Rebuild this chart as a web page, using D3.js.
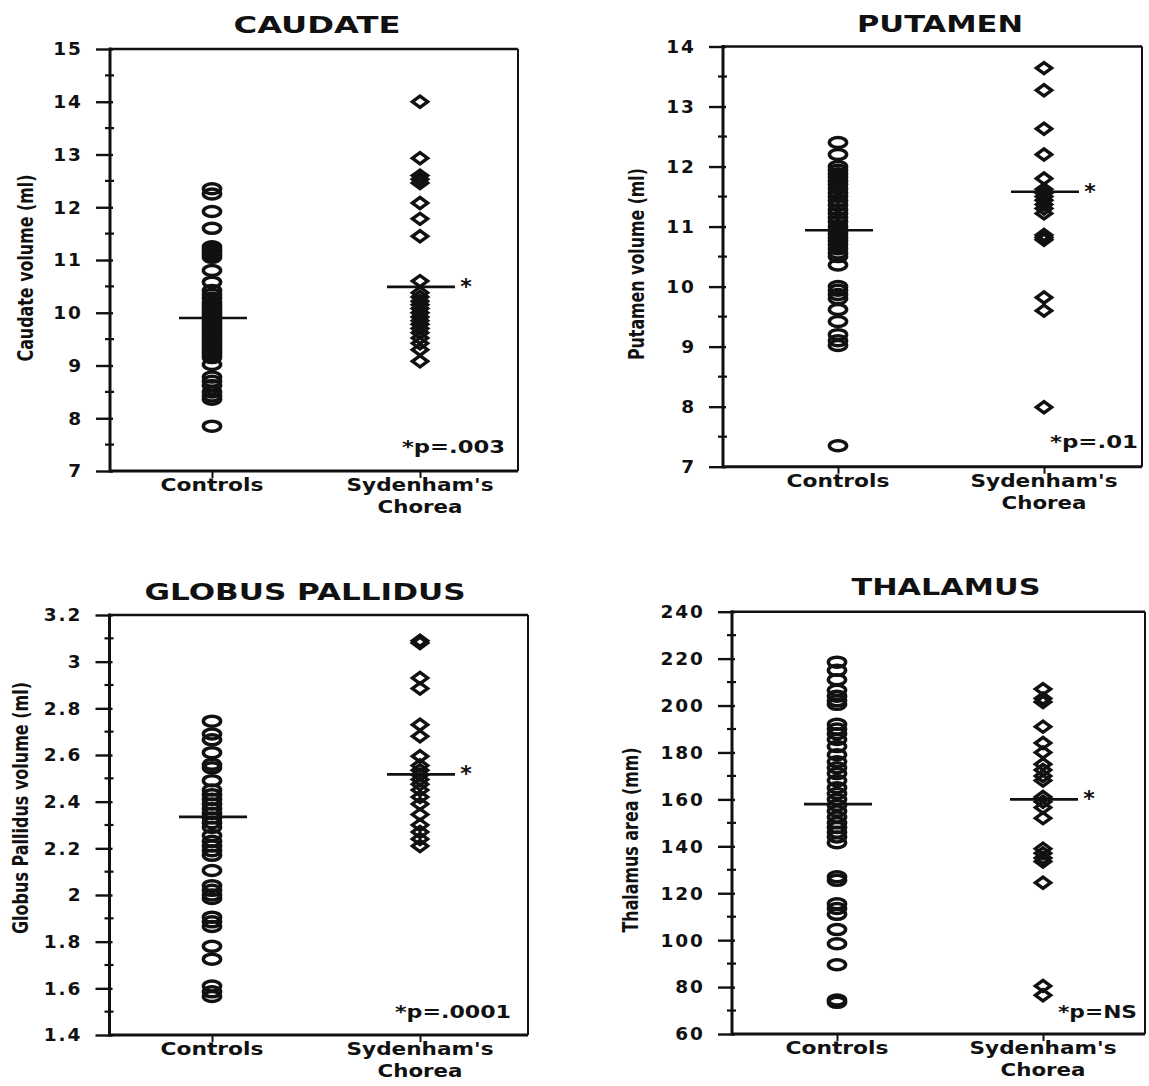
<!DOCTYPE html>
<html>
<head>
<meta charset="utf-8">
<script src="https://cdn.jsdelivr.net/npm/d3@7"></script>
<style>
  html, body { margin: 0; padding: 0; background: #fff; }
  svg { display: block; }
  text { fill: #111; }
</style>
</head>
<body>
<svg id="chart" width="1149" height="1086"></svg>
<script>
// ---- data -------------------------------------------------------------
const categories = ["Controls", "Sydenham's Chorea"];
const categoryLines = [["Controls"], ["Sydenham's", "Chorea"]];

const panelTitles = ["CAUDATE", "PUTAMEN", "GLOBUS PALLIDUS", "THALAMUS"];
const yAxisTitles = ["Caudate volume (ml)", "Putamen volume (ml)",
                     "Globus Pallidus volume (ml)", "Thalamus area (mm)"];
const pValueLabels = ["*p=.003", "*p=.01", "*p=.0001", "*p=NS"];

const yDomains = [[7, 15], [7, 14], [1.4, 3.2], [60, 240]];
const majorTicks = [
  [7, 8, 9, 10, 11, 12, 13, 14, 15],
  [7, 8, 9, 10, 11, 12, 13, 14],
  [1.4, 1.6, 1.8, 2, 2.2, 2.4, 2.6, 2.8, 3, 3.2],
  [60, 80, 100, 120, 140, 160, 180, 200, 220, 240]
];
const minorTicks = [
  [7.5, 8.5, 9.5, 10.5, 11.5, 12.5, 13.5, 14.5],
  [7.5, 8.5, 9.5, 10.5, 11.5, 12.5, 13.5],
  [1.5, 1.7, 1.9, 2.1, 2.3, 2.5, 2.7, 2.9, 3.1],
  [70, 90, 110, 130, 150, 170, 190, 210, 230]
];

const caudateControls = [12.35, 12.25, 11.92, 11.6, 11.25, 11.2, 11.15, 11.1, 11.05,
  10.8, 10.58, 10.42, 10.35, 10.28, 10.2, 10.15, 10.1, 10.05, 10.0, 9.95, 9.9,
  9.85, 9.8, 9.75, 9.7, 9.65, 9.6, 9.55, 9.5, 9.45, 9.4, 9.35, 9.3, 9.25, 9.2,
  9.15, 9.02, 8.78, 8.7, 8.62, 8.5, 8.42, 8.36, 7.85];
const caudateChorea = [14.0, 12.93, 12.6, 12.53, 12.46, 12.08, 11.78, 11.45,
  10.6, 10.38, 10.3, 10.22, 10.15, 10.08, 10.0, 9.92, 9.85, 9.78, 9.7, 9.62,
  9.52, 9.42, 9.3, 9.08];

const putamenControls = [12.4, 12.2, 12.0, 11.94, 11.88, 11.82, 11.76, 11.7,
  11.63, 11.56, 11.5, 11.43, 11.36, 11.28, 11.22, 11.15, 11.08, 11.0, 10.94,
  10.88, 10.82, 10.76, 10.7, 10.63, 10.56, 10.5, 10.36, 10.0, 9.94, 9.87, 9.8,
  9.62, 9.42, 9.2, 9.1, 9.02, 7.35];
const putamenChorea = [13.64, 13.27, 12.63, 12.2, 11.8, 11.62, 11.56, 11.5,
  11.44, 11.37, 11.3, 11.22, 10.86, 10.82, 10.78, 9.82, 9.6, 7.99];

const globusControls = [2.745, 2.69, 2.665, 2.61, 2.56, 2.545, 2.49, 2.45, 2.43,
  2.41, 2.39, 2.37, 2.35, 2.33, 2.31, 2.29, 2.255, 2.23, 2.21, 2.19, 2.17,
  2.105, 2.04, 2.02, 2.0, 1.985, 1.905, 1.885, 1.865, 1.78, 1.725, 1.61, 1.585,
  1.565];
const globusChorea = [3.09, 3.08, 2.93, 2.885, 2.73, 2.68, 2.595, 2.555, 2.535,
  2.515, 2.495, 2.475, 2.45, 2.42, 2.39, 2.345, 2.3, 2.27, 2.24, 2.21];

const thalamusControls = [218.5, 215, 211, 206.5, 204, 202, 200.5, 192, 190, 188,
  185.5, 182.5, 179, 176, 173.5, 171, 168, 165, 162.5, 160, 157.5, 155, 152.5,
  150, 148, 146, 144, 141.5, 127, 125.5, 115.5, 113.5, 111, 104.5, 98.5, 89.5,
  74.5, 73.5];
const thalamusChorea = [207, 203, 201.5, 191, 184, 180, 175, 172.5, 170, 168,
  161, 159, 156.5, 152, 139, 137, 135, 133.5, 124.5, 80.5, 76.5];

const controlsSeries = [caudateControls, putamenControls, globusControls, thalamusControls];
const choreaSeries = [caudateChorea, putamenChorea, globusChorea, thalamusChorea];
const controlMeans = [9.90, 10.94, 2.335, 158.0];
const choreaMeans = [10.49, 11.58, 2.517, 160.0];

// ---- layout -----------------------------------------------------------
const layout = [
  { left: 110, right: 518, top: 49, bottom: 471, cx: [212, 420],
    title: [317, 25, 167], ylab: [25, 268, 187], pval: [402, 453, 103] },
  { left: 723, right: 1142, top: 46.5, bottom: 466.7, cx: [838, 1044],
    title: [940, 24, 166], ylab: [636, 264, 192], pval: [1050, 448, 88] },
  { left: 109.5, right: 528, top: 615, bottom: 1035, cx: [212, 420],
    title: [305, 592, 321], ylab: [20, 808, 252], pval: [395, 1018, 116] },
  { left: 732, right: 1145, top: 611.7, bottom: 1034, cx: [837, 1043],
    title: [946, 587, 189], ylab: [630, 840, 185], pval: [1058, 1018, 79] }
];

const svg = d3.select("#chart");
svg.append("rect").attr("width", 1149).attr("height", 1086).attr("fill", "#fff");

const FONT = "'DejaVu Sans', 'Noto Sans', sans-serif";
const NARROW = "'Liberation Sans Narrow', 'DejaVu Sans Condensed', 'DejaVu Sans', sans-serif";

layout.forEach((L, i) => {
  const g = svg.append("g");
  const y = d3.scaleLinear().domain(yDomains[i]).range([L.bottom, L.top]);
  const x = d3.scalePoint().domain(categories).range(L.cx);

  // title
  g.append("text")
    .attr("x", L.title[0]).attr("y", L.title[1]).attr("dy", "0.36em")
    .attr("text-anchor", "middle")
    .attr("font-family", FONT).attr("font-weight", "bold").attr("font-size", 23)
    .attr("textLength", L.title[2]).attr("lengthAdjust", "spacingAndGlyphs")
    .text(panelTitles[i]);

  // y-axis title
  g.append("text")
    .attr("transform", `translate(${L.ylab[0]},${L.ylab[1]}) rotate(-90)`)
    .attr("text-anchor", "middle").attr("dy", "0.35em")
    .attr("font-family", NARROW).attr("font-weight", "bold").attr("font-size", 22)
    .attr("textLength", L.ylab[2]).attr("lengthAdjust", "spacingAndGlyphs")
    .text(yAxisTitles[i]);

  // frame
  const frame = g.append("g").attr("stroke", "#111").attr("fill", "none");
  frame.append("line").attr("x1", L.left).attr("x2", L.left)
    .attr("y1", L.top - 1.5).attr("y2", L.bottom + 1.5).attr("stroke-width", 3);
  frame.append("line").attr("x1", L.left).attr("x2", L.right)
    .attr("y1", L.top).attr("y2", L.top).attr("stroke-width", 2.5);
  frame.append("line").attr("x1", L.left).attr("x2", L.right)
    .attr("y1", L.bottom).attr("y2", L.bottom).attr("stroke-width", 3);
  frame.append("line").attr("x1", L.right).attr("x2", L.right)
    .attr("y1", L.top).attr("y2", L.bottom).attr("stroke-width", 2);

  // left axis: major ticks with labels
  const yAxis = d3.axisLeft(y).tickValues(majorTicks[i])
    .tickSize(14).tickPadding(13).tickFormat(d3.format("~g"));
  const ya = g.append("g").attr("transform", `translate(${L.left},0)`).call(yAxis);
  ya.select(".domain").remove();
  ya.selectAll(".tick line").attr("x2", -14).attr("x1", 3)
    .attr("stroke", "#111").attr("stroke-width", 2.4);
  ya.selectAll(".tick text")
    .attr("font-family", FONT).attr("font-weight", "bold").attr("font-size", 18.5)
    .attr("letter-spacing", 2).attr("fill", "#111");

  // minor ticks
  g.append("g").selectAll("line").data(minorTicks[i]).join("line")
    .attr("x1", L.left - 5).attr("x2", L.left + 4)
    .attr("y1", d => y(d)).attr("y2", d => y(d))
    .attr("stroke", "#111").attr("stroke-width", 2.2);

  // bottom axis: category ticks
  const xAxis = d3.axisBottom(x).tickSize(7).tickFormat("");
  const xa = g.append("g").attr("transform", `translate(0,${L.bottom})`).call(xAxis);
  xa.select(".domain").remove();
  xa.selectAll(".tick line").attr("stroke", "#111").attr("stroke-width", 2);

  // category labels
  const catWidths = [[103], [147, 85]];
  categories.forEach((c, ci) => {
    categoryLines[ci].forEach((line, li) => {
      g.append("text")
        .attr("x", x(c)).attr("y", L.bottom + 20 + li * 22)
        .attr("text-anchor", "middle")
        .attr("font-family", FONT).attr("font-weight", "bold").attr("font-size", 18)
        .attr("textLength", catWidths[ci][li]).attr("lengthAdjust", "spacingAndGlyphs")
        .text(line);
    });
  });

  // controls: open circles
  g.append("g").selectAll("ellipse").data(controlsSeries[i]).join("ellipse")
    .attr("cx", x(categories[0])).attr("cy", d => y(d))
    .attr("rx", 8.6).attr("ry", 5)
    .attr("fill", "none").attr("stroke", "#111").attr("stroke-width", 3.5);

  // patients: open diamonds
  const diamond = "M0,-5.6L7.6,0L0,5.6L-7.6,0Z";
  g.append("g").selectAll("path").data(choreaSeries[i]).join("path")
    .attr("d", diamond)
    .attr("transform", d => `translate(${x(categories[1])},${y(d)})`)
    .attr("fill", "none").attr("stroke", "#111").attr("stroke-width", 3.4)
    .attr("stroke-linejoin", "miter");

  // group means
  const means = [controlMeans[i], choreaMeans[i]];
  g.append("g").selectAll("line").data(means).join("line")
    .attr("x1", (d, k) => x(categories[k]) - 33)
    .attr("x2", (d, k) => x(categories[k]) + 35)
    .attr("y1", d => y(d)).attr("y2", d => y(d))
    .attr("stroke", "#111").attr("stroke-width", 2.6);

  // significance marker next to the patient mean
  g.append("text")
    .attr("x", x(categories[1]) + 46).attr("y", y(choreaMeans[i]) + 7)
    .attr("text-anchor", "middle")
    .attr("font-family", FONT).attr("font-weight", "bold").attr("font-size", 22)
    .text("*");

  // p-value note
  g.append("text")
    .attr("x", L.pval[0]).attr("y", L.pval[1])
    .attr("font-family", FONT).attr("font-weight", "bold").attr("font-size", 18)
    .attr("textLength", L.pval[2]).attr("lengthAdjust", "spacingAndGlyphs")
    .text(pValueLabels[i]);
});
</script>
</body>
</html>
